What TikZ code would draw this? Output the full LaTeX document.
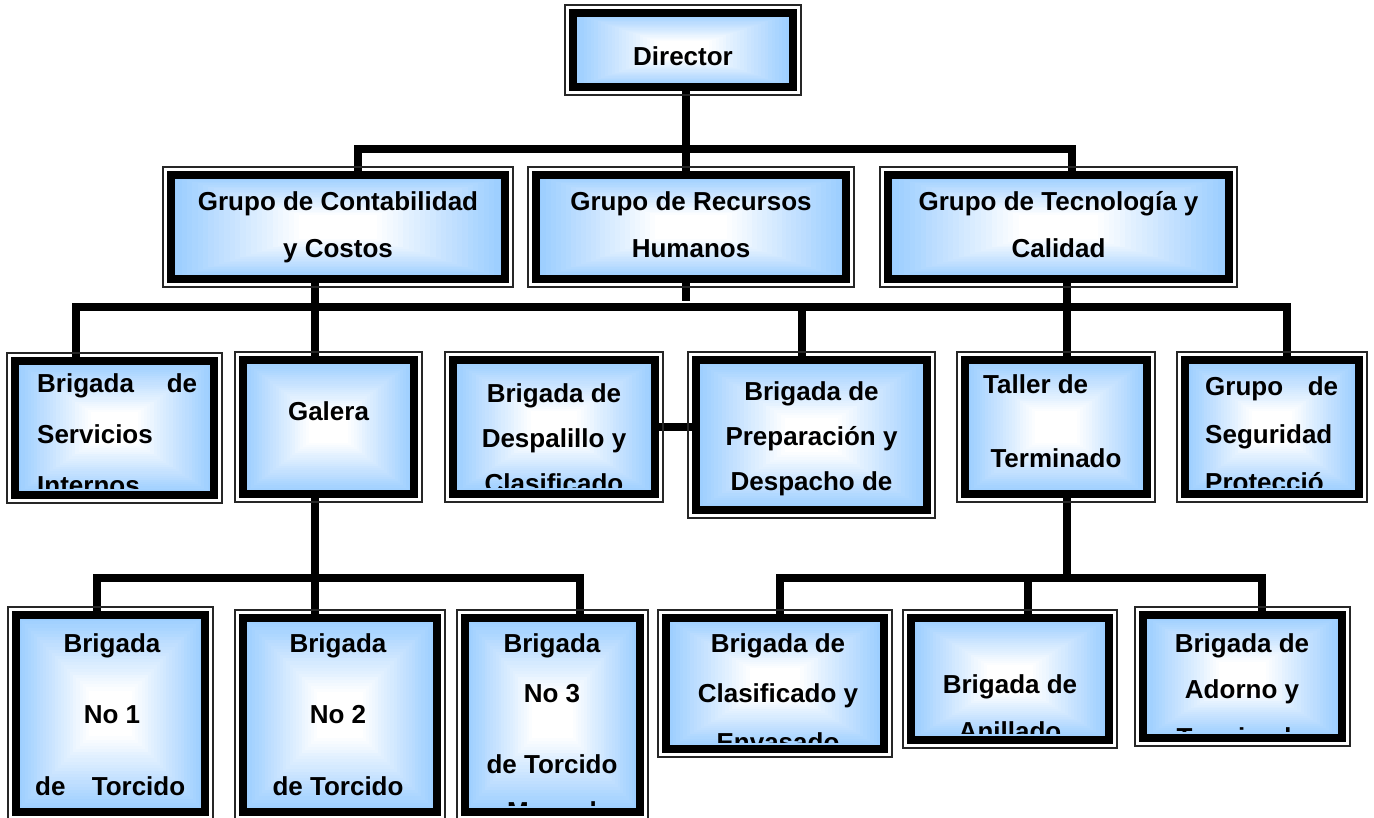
\documentclass[tikz,border=0pt]{standalone}
\usepackage{fontspec}
\setmainfont{Liberation Sans}
\usetikzlibrary{calc}
\definecolor{boxblue}{RGB}{153,204,255}
\pgfdeclarelayer{background}
\pgfsetlayers{background,main}
\tikzset{
  grad/.style={path picture={
    \foreach \i in {0,...,24}{
      \pgfmathsetmacro\f{\i*0.032}
      \pgfmathtruncatemacro\p{100-\i*100/24}
      \fill[boxblue!\p!white]
        ($(path picture bounding box.south west)!\f!(path picture bounding box.center)$)
        rectangle
        ($(path picture bounding box.north east)!\f!(path picture bounding box.center)$);
    }}},
  box/.style={rectangle, draw=black, line width=7.5pt, inner sep=0pt, outer sep=0pt, grad},
  frame/.style={draw=black!85, line width=1.3pt},
  conn/.style={draw=black, line width=7.5pt, line join=miter},
  txt/.style={font=\bfseries\fontsize{26}{30}\selectfont, inner sep=0pt, anchor=base},
  txtl/.style={txt, anchor=base west}
}
\newcommand\obox[5]{%
  \node[box, minimum width={#4-#2-16}, minimum height={#5-#3-16}] (#1) at ({(#2+#4)/2},{(#3+#5)/2}) {};
  \draw[frame] ([shift={(-8,8)}]#1.south west) rectangle ([shift={(8,-8)}]#1.north east);
}
\newcommand\cliptext[2]{%
  \begin{scope}
    \clip ([shift={(3.75,-7)}]#1.south west) rectangle ([shift={(-3.75,3.75)}]#1.north east);
    #2
  \end{scope}}
\begin{document}
\begin{tikzpicture}[x=1pt,y=-1pt]
\useasboundingbox (0,0) rectangle (1374,817);
% boxes
\obox{dir}{565}{5}{801}{95}
\obox{cont}{163}{167}{513}{287}
\obox{rrhh}{528}{167}{854}{287}
\obox{tec}{880}{167}{1237}{287}
\obox{serv}{7}{353}{222}{503}
\obox{gal}{235}{352}{422}{502}
\obox{desp}{445}{352}{663}{502}
\obox{prep}{688}{352}{935}{518}
\obox{tall}{957}{352}{1155}{502}
\obox{seg}{1177}{352}{1367}{502}
\obox{n1}{8}{607}{213}{820}
\obox{n2}{235}{610}{445}{820}
\obox{n3}{457}{610}{648}{820}
\obox{clas}{658}{610}{892}{757}
\obox{anil}{903}{610}{1117}{748}
\obox{ador}{1135}{607}{1350}{746}
% texts
\cliptext{dir}{\node[txt] (dir-t) at (683,65) {Director};}
\cliptext{cont}{
  \node[txt] (cont-t1) at (338,210) {Grupo de Contabilidad};
  \node[txt] (cont-t2) at (338,257) {y Costos};}
\cliptext{rrhh}{
  \node[txt] (rrhh-t1) at (691,210) {Grupo de Recursos};
  \node[txt] (rrhh-t2) at (691,257) {Humanos};}
\cliptext{tec}{
  \node[txt] (tec-t1) at (1058.5,210) {Grupo de Tecnología y};
  \node[txt] (tec-t2) at (1058.5,257) {Calidad};}
\cliptext{serv}{
  \node[txtl] (serv-t1) at (37,392) {\hbox to 160pt{Brigada\hfill de}};
  \node[txtl] (serv-t2) at (37,443) {Servicios};
  \node[txtl] (serv-t3) at (37,494) {Internos};}
\cliptext{gal}{\node[txt] (gal-t) at (328.5,420) {Galera};}
\cliptext{desp}{
  \node[txt] (desp-t1) at (554,402) {Brigada de};
  \node[txt] (desp-t2) at (554,447) {Despalillo y};
  \node[txt] (desp-t3) at (554,492) {Clasificado};}
\cliptext{prep}{
  \node[txt] (prep-t1) at (811.5,400) {Brigada de};
  \node[txt] (prep-t2) at (811.5,445) {Preparación y};
  \node[txt] (prep-t3) at (811.5,490) {Despacho de};}
\cliptext{tall}{
  \node[txtl] (tall-t1) at (983,393) {Taller de};
  \node[txt] (tall-t2) at (1056,467) {Terminado};}
\cliptext{seg}{
  \node[txtl] (seg-t1) at (1205,395) {\hbox to 133pt{Grupo\hfill de}};
  \node[txtl] (seg-t2) at (1205,443) {Seguridad};
  \node[txtl] (seg-t3) at (1205,491) {Protecció};}
\cliptext{n1}{
  \node[txt] (n1-t1) at (112,652) {Brigada};
  \node[txt] (n1-t2) at (112,723) {No 1};
  \node[txtl] (n1-t3) at (35,795) {\hbox to 150pt{de\hfill Torcido}};}
\cliptext{n2}{
  \node[txt] (n2-t1) at (338,652) {Brigada};
  \node[txt] (n2-t2) at (338,723) {No 2};
  \node[txt] (n2-t3) at (338,795) {de Torcido};}
\cliptext{n3}{
  \node[txt] (n3-t1) at (552,652) {Brigada};
  \node[txt] (n3-t2) at (552,702) {No 3};
  \node[txt] (n3-t3) at (552,773) {de Torcido};
  \node[txt] (n3-t4) at (552,820) {Manual};}
\cliptext{clas}{
  \node[txt] (clas-t1) at (778,652) {Brigada de};
  \node[txt] (clas-t2) at (778,702) {Clasificado y};
  \node[txt] (clas-t3) at (778,751) {Envasado};}
\cliptext{anil}{
  \node[txt] (anil-t1) at (1010,693) {Brigada de};
  \node[txt] (anil-t2) at (1010,740) {Anillado};}
\cliptext{ador}{
  \node[txt] (ador-t1) at (1242,652) {Brigada de};
  \node[txt] (ador-t2) at (1242,698) {Adorno y};
  \node[txt] (ador-t3) at (1242,746) {Terminado};}
% bus levels
\coordinate (b1) at (0,149);
\coordinate (b2) at (0,307);
\coordinate (b3) at (0,578);
\coordinate (s1) at (0,301);
\begin{pgfonlayer}{background}
\draw[conn] ([xshift=3]dir.south) -- ([xshift=-5]rrhh.north);
\draw[conn] ([xshift=20]cont.north) |- ([xshift=13.5]tec.north |- b1) -- ([xshift=13.5]tec.north);
\draw[conn] ([xshift=-23]cont.south) -- ([xshift=-13.5]gal.north);
\draw[conn] ([xshift=-5]rrhh.south) -- ([xshift=-5]rrhh.south |- s1);
\draw[conn] ([xshift=8.5]tec.south) -- ([xshift=11]tall.north);
\draw[conn] ([xshift=-38.5]serv.north) |- ([xshift=15]seg.north |- b2) -- ([xshift=15]seg.north);
\draw[conn] ([xshift=-9.5]prep.north) -- ([xshift=-9.5]prep.north |- b2);
\draw[conn] (desp.east) -- (desp.east -| prep.west);
\draw[conn] ([xshift=-13.5]gal.south) -- ([xshift=-13.5]gal.south |- b3);
\draw[conn] ([xshift=-13.5]n1.north) |- ([xshift=27.5]n3.north |- b3) -- ([xshift=27.5]n3.north);
\draw[conn] ([xshift=-25]n2.north) -- ([xshift=-25]n2.north |- b3);
\draw[conn] ([xshift=11]tall.south) -- ([xshift=11]tall.south |- b3);
\draw[conn] ([xshift=5]clas.north) |- ([xshift=19.5]ador.north |- b3) -- ([xshift=19.5]ador.north);
\draw[conn] ([xshift=18]anil.north) -- ([xshift=18]anil.north |- b3);
\end{pgfonlayer}
\end{tikzpicture}
\end{document}
